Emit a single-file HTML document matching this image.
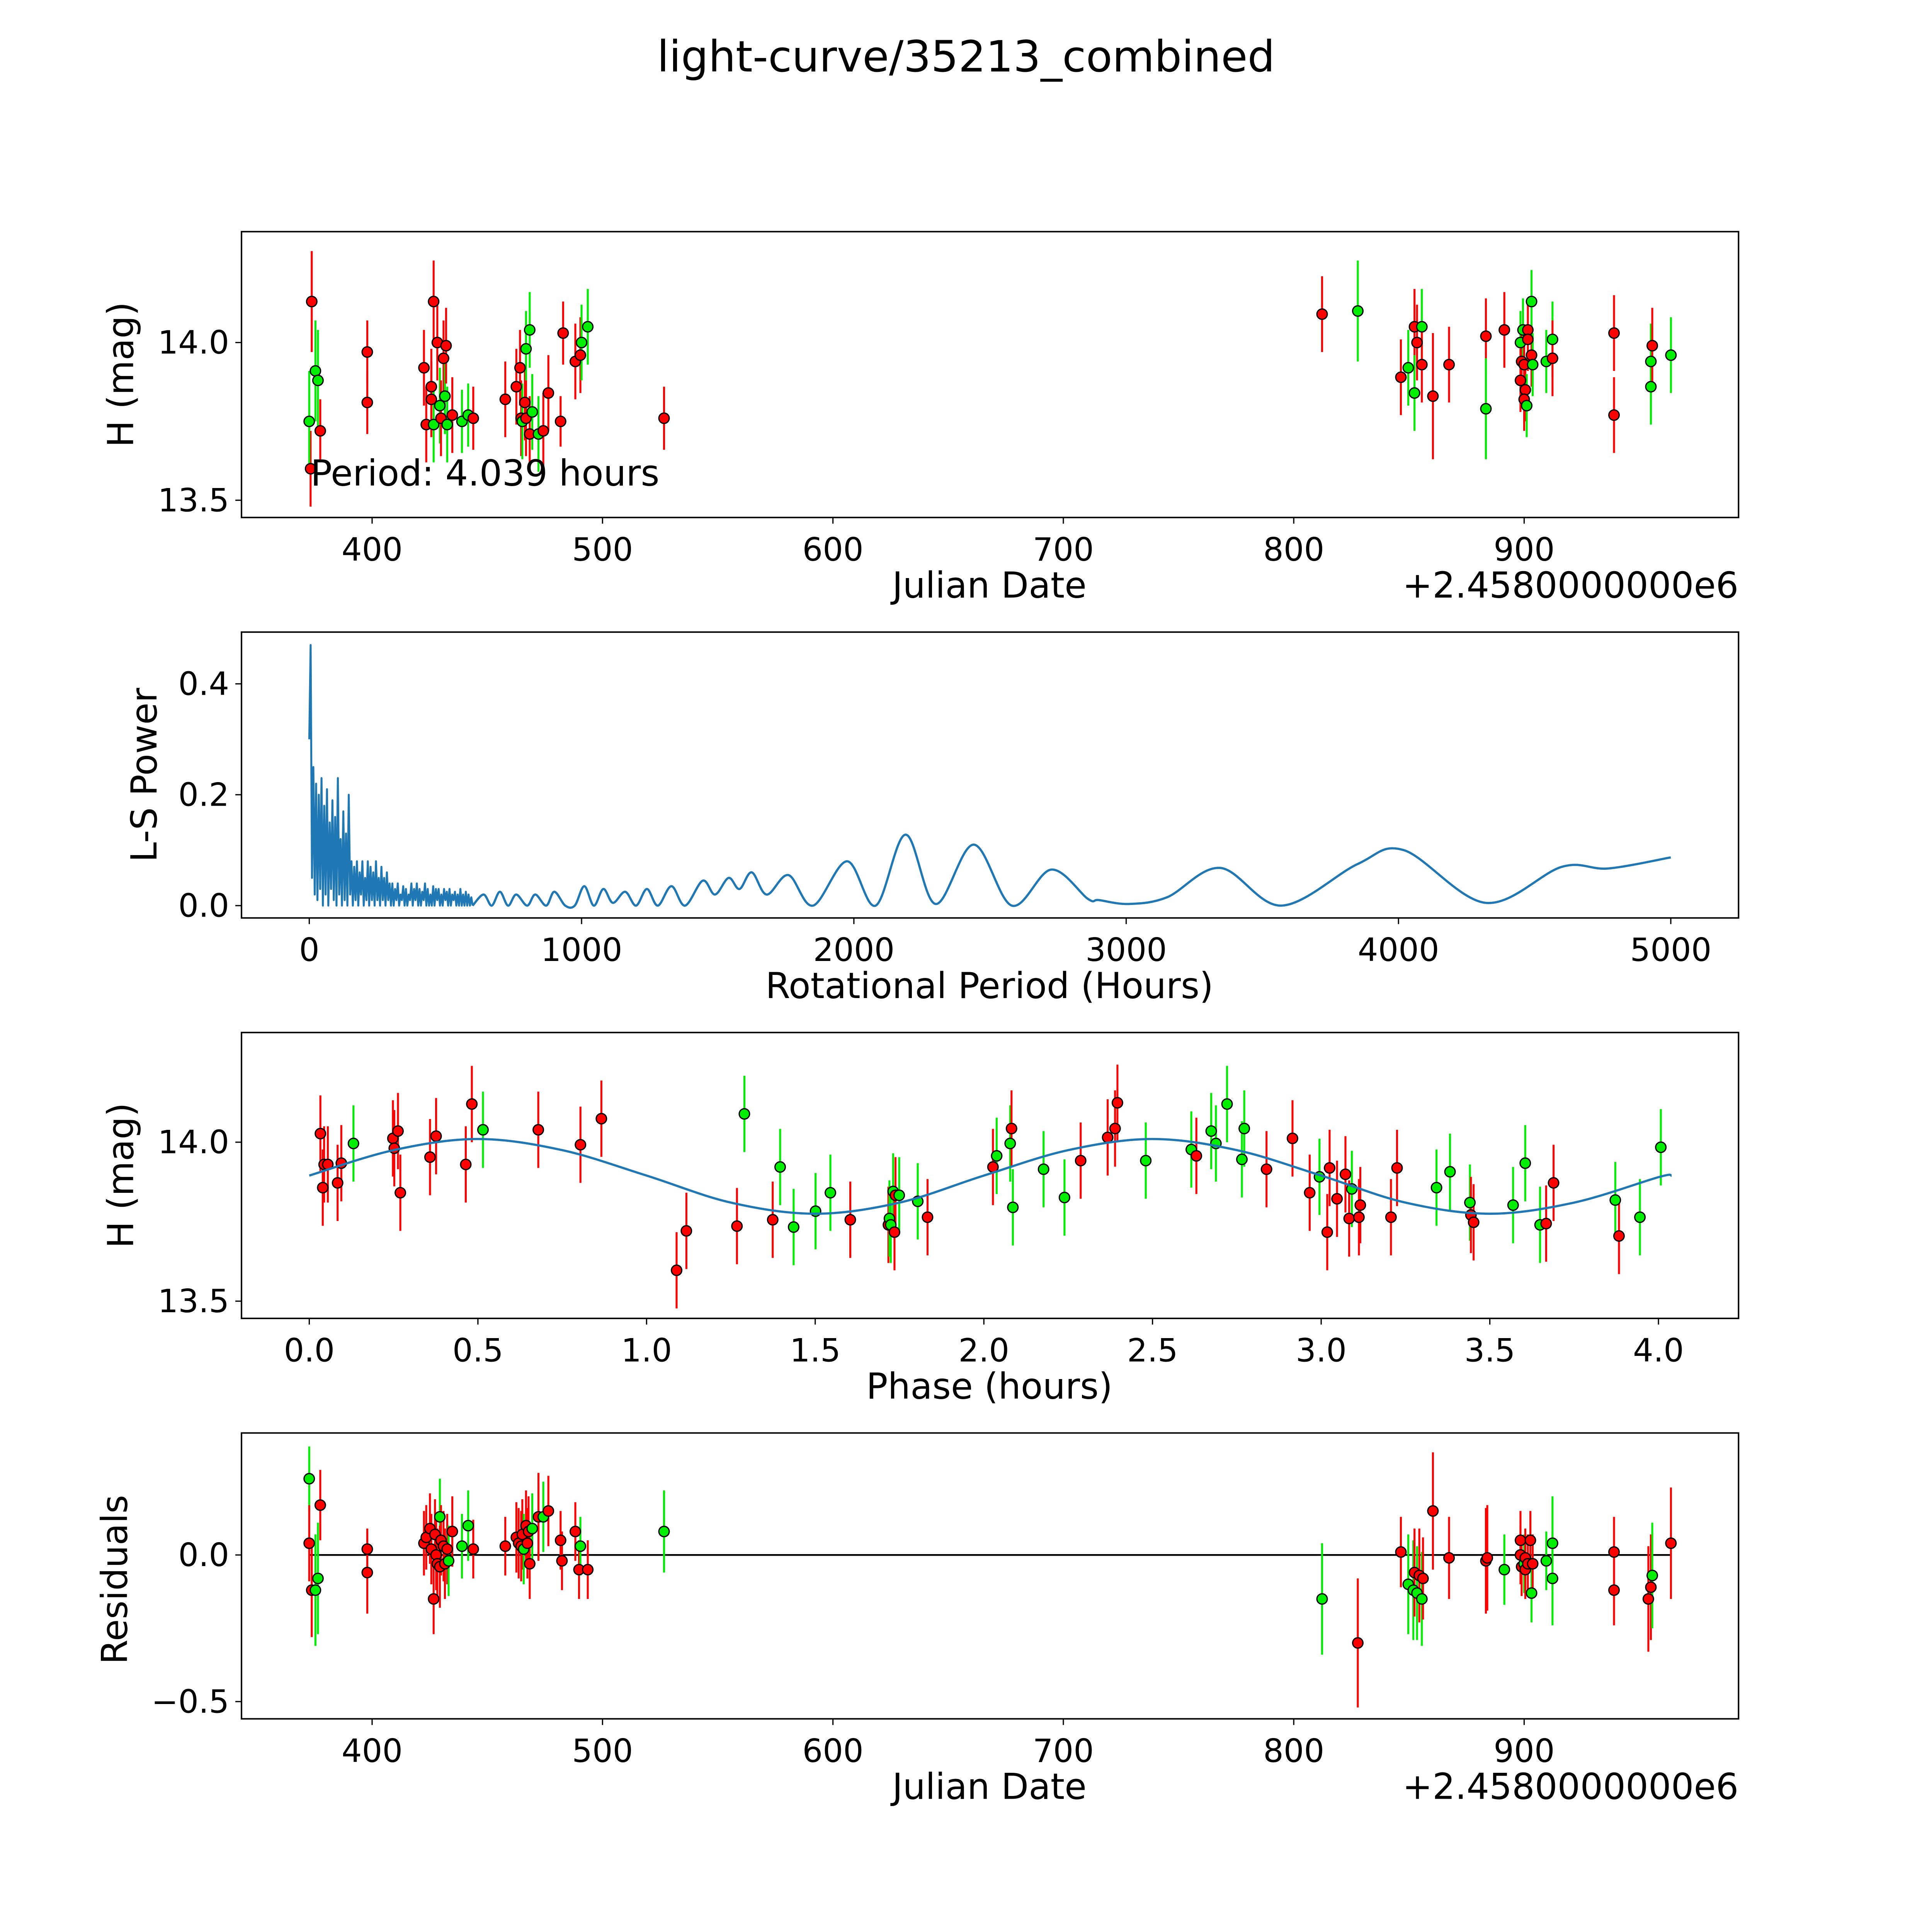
<!DOCTYPE html>
<html><head><meta charset="utf-8"><style>
html,body{margin:0;padding:0;background:#fff;overflow:hidden;width:100vw;height:100vh;}
svg{display:block;width:100vw;height:100vh;font-family:"DejaVu Sans","Liberation Sans",sans-serif;}
</style></head><body>
<svg id="fig" viewBox="0 0 1568 1568" preserveAspectRatio="none" xmlns="http://www.w3.org/2000/svg">
<rect width="1568" height="1568" fill="#fff"/>
<text x="784" y="58" font-size="35" text-anchor="middle">light-curve/35213_combined</text>
</svg>
<script>
// ---- Panel 1: light curve vs Julian date (offset from 2458000) ----
const p1Jd  = [373.3,373.8,372.7,375.4,376.5,377.5,397.9,397.9,422.5,423.5,425.7,426.7,425.7,426.7,428.3,429.4,429.9,431.0,431.6,432.1,432.6,434.8,439.0,441.7,443.9,457.8,462.6,464.2,464.7,465.2,466.3,466.8,466.8,468.4,468.4,469.5,472.2,474.3,476.5,481.8,482.9,488.2,490.4,490.9,493.6,526.7,812.3,827.8,846.5,849.7,852.4,852.4,853.5,855.6,855.6,860.4,867.4,883.4,883.4,891.4,898.4,898.4,898.9,899.5,900.0,900.5,900.0,901.1,901.6,901.6,903.2,903.2,903.7,909.6,912.3,912.3,939.0,939.0,955.0,955.0,955.6,963.7];
const p1Mag = [13.60,14.13,13.75,13.91,13.88,13.72,13.97,13.81,13.92,13.74,13.86,14.13,13.82,13.74,14.00,13.80,13.76,13.95,13.83,13.99,13.74,13.77,13.75,13.77,13.76,13.82,13.86,13.92,13.76,13.75,13.81,13.98,13.76,14.04,13.71,13.78,13.71,13.72,13.84,13.75,14.03,13.94,13.96,14.00,14.05,13.76,14.09,14.10,13.89,13.92,14.05,13.84,14.00,14.05,13.93,13.83,13.93,14.02,13.79,14.04,14.00,13.88,13.94,14.04,13.93,13.85,13.82,13.80,14.04,14.01,13.96,14.13,13.93,13.94,14.01,13.95,14.03,13.77,13.94,13.86,13.99,13.96];
const p1Err = [0.12,0.16,0.16,0.16,0.16,0.1,0.1,0.1,0.12,0.12,0.12,0.13,0.12,0.12,0.12,0.12,0.12,0.12,0.12,0.12,0.12,0.12,0.1,0.1,0.1,0.12,0.12,0.12,0.12,0.12,0.12,0.12,0.12,0.12,0.12,0.12,0.12,0.12,0.12,0.08,0.1,0.12,0.12,0.12,0.12,0.1,0.12,0.16,0.12,0.12,0.12,0.12,0.12,0.12,0.12,0.2,0.12,0.12,0.16,0.12,0.1,0.1,0.1,0.1,0.1,0.1,0.1,0.1,0.1,0.1,0.1,0.1,0.1,0.1,0.12,0.12,0.12,0.12,0.12,0.12,0.12,0.12];
const p1Color = "rrgggrrrrrrrrgrgrrgrgrggrrrrrgrgrgrggrrrrrrggrrgrgrgrgrrrrgrgrrgrrrgrrrggggrrrggrg";

// ---- Panel 2: Lomb-Scargle periodogram ----
const lsDenseStart = 0, lsDenseStep = 5;
const lsDensePower = [0.3,0.47,0.05,0.25,0.02,0.22,0.01,0.2,0.03,0.23,0.0,0.18,0.02,0.21,0.0,0.15,0.03,0.19,0.01,0.16,0.0,0.23,0.02,0.12,0.0,0.17,0.01,0.13,0.0,0.2,0.02,
 0.08,0.0,0.07,0.01,0.08,0.0,0.06,0.02,0.08,0.0,0.05,0.01,0.08,0.0,0.07,0.01,0.06,0.0,0.08,0.01,0.05,0.0,0.07,0.01,0.05,0.0,0.06,0.01,0.04,0.0,
 0.04,0.0,0.03,0.01,0.04,0.0,0.02,0.01,0.035,0.0,0.03,0.0,0.02,0.01,0.04,0.0,0.03,0.01,0.04,0.0,0.03,0.0,0.025,0.01,0.04,0.0,0.03,0.0,0.02,0.0,
 0.035,0.0,0.03,0.01,0.03,0.0,0.02,0.0,0.03,0.01,0.025,0.0,0.03,0.0,0.02,0.01,0.025,0.0,0.02,0.0,0.03,0.0,0.02,0.0,0.025,0.0,0.02,0.0,0.015,0.0];
const lsPeriod = [600,640,670,700,730,760,800,830,870,900,940,975,1010,1045,1080,1115,1160,1200,1240,1280,1330,1380,1445,1490,1540,1580,1625,1680,1760,1850,1975,2080,2190,2300,2440,2580,2725,2860,2900,3010,3150,3345,3570,3850,4020,4320,4600,4770,5000];
const lsPower  = [0.0,0.02,0.0,0.025,0.0,0.02,0.0,0.02,0.0,0.025,0.0,0.0,0.035,0.0,0.03,0.005,0.025,0.0,0.03,0.0,0.035,0.0,0.045,0.02,0.05,0.03,0.06,0.02,0.055,0.0,0.08,0.0,0.128,0.003,0.11,0.0,0.065,0.012,0.01,0.003,0.015,0.068,0.0,0.075,0.1,0.005,0.07,0.067,0.087];

// ---- Panel 3: phase-folded light curve ----
const p3Phase = [0.033,0.040,0.044,0.055,0.084,0.095,0.131,0.248,0.252,0.263,0.270,0.358,0.376,0.464,0.482,0.515,0.679,0.804,0.866,1.089,1.118,1.268,1.290,1.374,1.396,1.436,1.501,1.545,1.604,1.717,1.720,1.724,1.731,1.735,1.738,1.749,1.804,1.833,2.027,2.038,2.078,2.082,2.086,2.177,2.239,2.287,2.367,2.389,2.396,2.480,2.615,2.630,2.674,2.688,2.721,2.765,2.772,2.838,2.915,2.966,2.995,3.018,3.025,3.047,3.072,3.083,3.091,3.112,3.116,3.207,3.225,3.342,3.382,3.441,3.444,3.452,3.569,3.605,3.649,3.667,3.689,3.872,3.883,3.945,4.007];
const p3Mag = [14.027,13.857,13.930,13.930,13.872,13.934,13.996,14.012,13.981,14.035,13.841,13.953,14.019,13.930,14.120,14.039,14.039,13.992,14.074,13.597,13.721,13.736,14.089,13.756,13.922,13.733,13.783,13.841,13.756,13.740,13.760,13.740,13.845,13.717,13.833,13.833,13.814,13.764,13.922,13.957,13.996,14.043,13.795,13.915,13.826,13.942,14.015,14.043,14.124,13.942,13.977,13.957,14.035,13.996,14.120,13.946,14.043,13.915,14.012,13.841,13.891,13.717,13.919,13.822,13.899,13.760,13.853,13.764,13.802,13.764,13.919,13.857,13.907,13.810,13.771,13.748,13.802,13.934,13.740,13.744,13.872,13.818,13.705,13.764,13.984];
const p3Color = "rrrrrrgrrrrrrrrgrrrrrrgrggggrrgggrrggrrggrgggrrrrggrgggggrrrgrrrrrgrrrrgggrrgggrrgrgggr";
const p3Err = 0.12;
const fitPhase = [0.0,0.25,0.5,0.75,1.0,1.25,1.5,1.75,2.0,2.25,2.5,2.75,3.0,3.25,3.5,3.75,4.0,4.039];
const fitMag   = [13.895,13.975,14.01,13.975,13.895,13.81,13.775,13.81,13.895,13.975,14.01,13.975,13.895,13.81,13.775,13.81,13.89,13.895];

// ---- Panel 4: residuals ----
const p4Jd = [372.7,372.7,373.8,375.4,376.5,377.5,397.9,397.9,422.5,423.5,425.1,425.7,426.7,427.3,427.8,428.3,429.4,429.4,429.9,431.0,431.6,432.6,433.2,434.8,439.0,441.7,443.9,457.8,462.6,463.6,464.7,465.2,465.8,466.8,467.4,467.9,468.4,469.5,472.2,474.3,476.5,481.8,482.4,488.2,489.8,490.4,493.6,526.7,812.3,827.8,846.5,849.7,851.9,852.4,853.5,854.5,855.6,856.1,860.4,867.4,883.4,884.0,891.4,898.4,898.4,898.9,900.0,900.5,900.5,901.6,902.7,903.2,903.7,909.6,912.3,912.3,939.0,939.0,953.9,955.0,955.6,963.7];
const p4Res = [0.26,0.04,-0.12,-0.12,-0.08,0.17,0.02,-0.06,0.04,0.06,0.09,0.02,-0.15,0.07,0.0,-0.03,0.13,-0.04,0.05,0.03,-0.03,0.02,-0.02,0.08,0.03,0.10,0.02,0.03,0.06,0.04,0.03,0.07,0.02,0.10,0.04,0.08,-0.03,0.09,0.13,0.13,0.15,0.05,-0.02,0.08,-0.05,0.03,-0.05,0.08,-0.15,-0.30,0.01,-0.10,-0.12,-0.06,-0.13,-0.07,-0.15,-0.08,0.15,-0.01,-0.02,-0.01,-0.05,0.05,0.0,-0.04,-0.03,-0.05,-0.01,-0.03,0.05,-0.13,-0.03,-0.02,0.04,-0.08,0.01,-0.12,-0.15,-0.11,-0.07,0.04];
const p4Err = [0.11,0.13,0.16,0.19,0.19,0.12,0.07,0.14,0.11,0.11,0.12,0.12,0.12,0.12,0.12,0.12,0.13,0.14,0.12,0.12,0.12,0.12,0.12,0.12,0.11,0.12,0.1,0.1,0.12,0.12,0.12,0.12,0.12,0.12,0.12,0.12,0.12,0.12,0.15,0.12,0.12,0.1,0.1,0.1,0.1,0.1,0.1,0.14,0.19,0.22,0.12,0.17,0.17,0.15,0.16,0.16,0.16,0.14,0.2,0.14,0.18,0.18,0.12,0.1,0.1,0.1,0.1,0.1,0.1,0.1,0.1,0.1,0.1,0.1,0.16,0.16,0.12,0.12,0.18,0.18,0.18,0.19];
const p4Color = "grrggrrrrrrrrrrrgrrrrrgrggrrrrrrgrrrrgrgrrrrrgrggrrggrgrgrrrrrgrrrgrrrrgrgggrrrrgrgg";

const S = document.getElementById('fig');
const NS = 'http://www.w3.org/2000/svg';
const RED = '#ff0000', GREEN = '#00ee00';
const TICK_FS = 26, LABEL_FS = 29;
function el(tag, attrs, parent) {
  const e = document.createElementNS(NS, tag);
  for (const k in attrs) e.setAttribute(k, attrs[k]);
  (parent || S).appendChild(e);
  return e;
}
function lin(d0, d1, r0, r1) { return v => r0 + (v - d0) * (r1 - r0) / (d1 - d0); }
const AX_L = 196, AX_R = 1411;
const panels = [
  {top:188, bot:420}, {top:513, bot:745}, {top:838, bot:1070}, {top:1163, bot:1395}
];
function frame(i, name) {
  const p = panels[i];
  const r = el('rect', {x:AX_L, y:p.top, width:AX_R-AX_L, height:p.bot-p.top, fill:'none', stroke:'#000', 'stroke-width':1.2});
  
  
}
function xTicks(i, vals, sx, fmt, name) {
  const p = panels[i];
  vals.forEach(v => {
    const x = sx(v);
    el('line', {x1:x, x2:x, y1:p.bot, y2:p.bot+5, stroke:'#000', 'stroke-width':1});
    const t = el('text', {x:x, y:p.bot+35, 'font-size':TICK_FS, 'text-anchor':'middle'});
    t.textContent = fmt(v);
    
    
  });
}
function yTicks(i, vals, sy, fmt, name) {
  vals.forEach(v => {
    const y = sy(v);
    el('line', {x1:AX_L-5, x2:AX_L, y1:y, y2:y, stroke:'#000', 'stroke-width':1});
    const t = el('text', {x:AX_L-10, y:y+9, 'font-size':TICK_FS, 'text-anchor':'end'});
    t.textContent = fmt(v);
    
    
  });
}
function label(txt, x, y, rot, name) {
  const t = el('text', {x:x, y:y, 'font-size':LABEL_FS, 'text-anchor':'middle'});
  if (rot) t.setAttribute('transform', 'rotate(-90 ' + x + ' ' + y + ')');
  t.textContent = txt;
  
  
}
function points(xs, ys, errs, colors, sx, sy, ymul, name) {
  const g = el('g', {});
  
  
  xs.forEach((xv, k) => {
    const c = colors[k] === 'g' ? GREEN : RED;
    const e = Array.isArray(errs) ? errs[k] : errs;
    const x = sx(xv);
    const bar = el('line', {x1:x, x2:x, y1:sy(ys[k]-e), y2:sy(ys[k]+e), stroke:c, 'stroke-width':1.6}, g);
    
    
  });
  xs.forEach((xv, k) => {
    const c = colors[k] === 'g' ? GREEN : RED;
    const m = el('circle', {cx:sx(xv), cy:sy(ys[k]), r:4.2, fill:c, stroke:'#000', 'stroke-width':1}, g);
    
    
  });
}
function smoothPath(pts) {
  let d = 'M' + pts[0][0] + ',' + pts[0][1];
  for (let i = 0; i < pts.length - 1; i++) {
    const p0 = pts[Math.max(0, i-1)], p1 = pts[i], p2 = pts[i+1], p3 = pts[Math.min(pts.length-1, i+2)];
    const c1x = p1[0] + (p2[0]-p0[0])/6, c1y = p1[1] + (p2[1]-p0[1])/6;
    const c2x = p2[0] - (p3[0]-p1[0])/6, c2y = p2[1] - (p3[1]-p1[1])/6;
    d += ' C' + c1x + ',' + c1y + ' ' + c2x + ',' + c2y + ' ' + p2[0] + ',' + p2[1];
  }
  return d;
}

// Panel 1
const jdX = lin(400, 900, 302, 1237);
const p1Y = lin(14.0, 13.5, 278, 406);
frame(0, 'lightcurve');
points(p1Jd, p1Mag, p1Err, p1Color, jdX, p1Y, 1, 'lightcurve-points');
xTicks(0, [400,500,600,700,800,900], jdX, v => String(v), 'lightcurve');
yTicks(0, [14.0, 13.5], p1Y, v => v.toFixed(1), 'lightcurve');
label('Julian Date', 803, 485, false, 'lightcurve-x-axis-title');
label('H (mag)', 108, 304, true, 'lightcurve-y-axis-title');
(function(){ const t = el('text', {x:1411, y:485, 'font-size':LABEL_FS, 'text-anchor':'end'}); t.textContent = '+2.4580000000e6';
    })();
(function(){ const t = el('text', {x:252, y:394, 'font-size':LABEL_FS}); t.textContent = 'Period: 4.039 hours';
    })();

// Panel 2
const perX = lin(0, 5000, 251, 1356);
const powY = lin(0, 0.4, 735, 555);
frame(1, 'periodogram');
(function(){
  const pts = [];
  lsDensePower.forEach((v, k) => pts.push((perX(lsDenseStart + k*lsDenseStep)).toFixed(2) + ',' + powY(v).toFixed(2)));
  const dense = el('polyline', {points: pts.join(' '), fill:'none', stroke:'#1f77b4', 'stroke-width':1.6, 'stroke-linejoin':'round'});
  
  
  const sp = lsPeriod.map((p, k) => [perX(p), powY(lsPower[k])]);
  const smooth = el('path', {d: smoothPath(sp), fill:'none', stroke:'#1f77b4', 'stroke-width':1.8});
  
  
})();
xTicks(1, [0,1000,2000,3000,4000,5000], perX, v => String(v), 'periodogram');
yTicks(1, [0.0,0.2,0.4], powY, v => v.toFixed(1), 'periodogram');
label('Rotational Period (Hours)', 803, 810, false, 'periodogram-x-axis-title');
label('L-S Power', 127, 629, true, 'periodogram-y-axis-title');

// Panel 3
const phX = lin(0, 4.0, 251, 1346);
const p3Y = lin(14.0, 13.5, 927, 1056);
frame(2, 'phased');
points(p3Phase, p3Mag, p3Err, p3Color, phX, p3Y, 1, 'phased-points');
(function(){
  const fp = fitPhase.map((p, k) => [phX(p), p3Y(fitMag[k])]);
  const f = el('path', {d: smoothPath(fp), fill:'none', stroke:'#1f77b4', 'stroke-width':1.8});
  
  
})();
xTicks(2, [0,0.5,1.0,1.5,2.0,2.5,3.0,3.5,4.0], phX, v => v.toFixed(1), 'phased');
yTicks(2, [14.0, 13.5], p3Y, v => v.toFixed(1), 'phased');
label('Phase (hours)', 803, 1135, false, 'phased-x-axis-title');
label('H (mag)', 108, 954, true, 'phased-y-axis-title');

// Panel 4
const resY = lin(0, -0.5, 1262, 1381);
frame(3, 'residuals');
(function(){
  const z = el('line', {x1:jdX(p4Jd[0]), x2:jdX(963.7), y1:resY(0), y2:resY(0), stroke:'#000', 'stroke-width':1.4});
  
  
})();
points(p4Jd, p4Res, p4Err, p4Color, jdX, resY, 1, 'residual-points');
xTicks(3, [400,500,600,700,800,900], jdX, v => String(v), 'residuals');
yTicks(3, [0.0, -0.5], resY, v => (v < 0 ? '\u2212' : '') + Math.abs(v).toFixed(1), 'residuals');
label('Julian Date', 803, 1460, false, 'residuals-x-axis-title');
label('Residuals', 103, 1282, true, 'residuals-y-axis-title');
(function(){ const t = el('text', {x:1411, y:1460, 'font-size':LABEL_FS, 'text-anchor':'end'}); t.textContent = '+2.4580000000e6';
    })();
</script>
</body></html>
